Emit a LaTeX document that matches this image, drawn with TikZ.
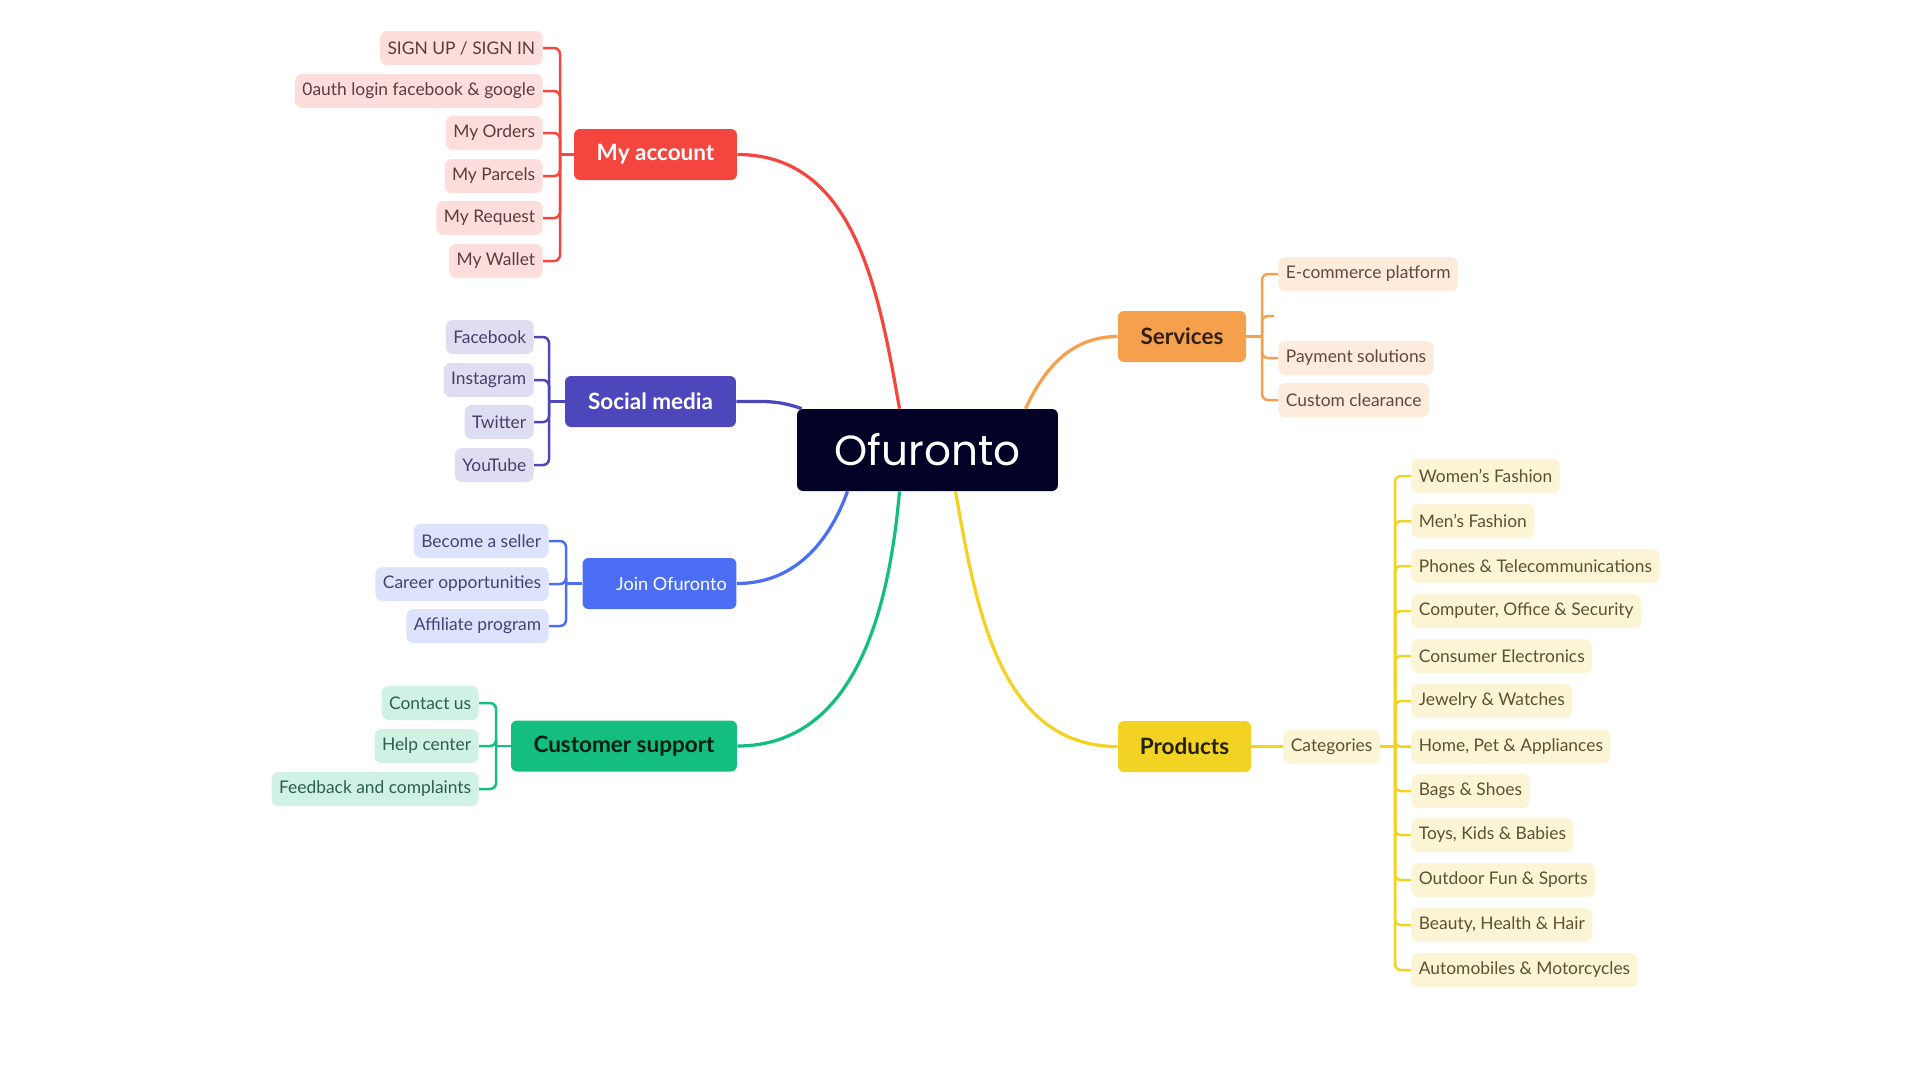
\documentclass[tikz,border=0pt]{standalone}
\usepackage{fontspec}
\setmainfont{Lato}
\newfontfamily\titlefont{Poppins}

\definecolor{navy}{HTML}{020126}
\definecolor{acctc}{HTML}{F4463F}
\definecolor{acctl}{HTML}{FDDEDC}
\definecolor{acctt}{HTML}{5E3B3F}
\definecolor{socc}{HTML}{4E47BC}
\definecolor{socl}{HTML}{DFDDF2}
\definecolor{soct}{HTML}{45406A}
\definecolor{joinc}{HTML}{4C6EF5}
\definecolor{joinl}{HTML}{DDE3FD}
\definecolor{joint}{HTML}{3F4670}
\definecolor{csc}{HTML}{13BE7F}
\definecolor{csl}{HTML}{D0F2E4}
\definecolor{cst}{HTML}{2E5E4C}
\definecolor{servc}{HTML}{F5A04C}
\definecolor{servl}{HTML}{FDEBDB}
\definecolor{servt}{HTML}{5E4A3A}
\definecolor{prodc}{HTML}{F2D323}
\definecolor{prodl}{HTML}{FCF5D5}
\definecolor{prodt}{HTML}{5C5232}

\begin{document}
\begin{tikzpicture}[x=0.02cm,y=-0.02cm,
  main/.style={rounded corners=0.12cm, minimum height=1.02cm, inner sep=0pt,
    font=\bfseries\fontsize{12.8}{14}\selectfont},
  leaf/.style={rounded corners=0.14cm, minimum height=0.68cm, inner xsep=0.15cm,
    inner ysep=0pt, font=\fontsize{9.9}{11}\selectfont},
  link/.style={line width=0.065cm},
  brk/.style={line width=0.05cm, rounded corners=0.12cm}]
  \useasboundingbox (0,0) rectangle (1920,1080);

  % centre
  \node[main, fill=navy, text=white, minimum width=5.22cm, minimum height=1.64cm,
    font=\titlefont\fontsize{24}{27}\selectfont] (ofu) at (927.5,450) {Ofuronto};

  % My account
  \node[main, fill=acctc, text=white, minimum width=3.26cm] (acct) at (655.5,154.5) {My account};
  \node[leaf, fill=acctl, text=acctt, anchor=east] (acct1) at (543,48) {SIGN UP / SIGN IN};
  \node[leaf, fill=acctl, text=acctt, anchor=east] (acct2) at (543,91) {0auth login facebook \& google};
  \node[leaf, fill=acctl, text=acctt, anchor=east] (acct3) at (543,133) {My Orders};
  \node[leaf, fill=acctl, text=acctt, anchor=east] (acct4) at (543,176) {My Parcels};
  \node[leaf, fill=acctl, text=acctt, anchor=east] (acct5) at (543,218) {My Request};
  \node[leaf, fill=acctl, text=acctt, anchor=east] (acct6) at (543,261) {My Wallet};
  \coordinate (acctj) at (560,154.5);
  \draw[brk, draw=acctc] (acct.west) -- (acctj);
  \draw[brk, draw=acctc] (acctj) |- (acct1.east);
  \draw[brk, draw=acctc] (acctj) |- (acct2.east);
  \draw[brk, draw=acctc] (acctj) |- (acct3.east);
  \draw[brk, draw=acctc] (acctj) |- (acct4.east);
  \draw[brk, draw=acctc] (acctj) |- (acct5.east);
  \draw[brk, draw=acctc] (acctj) |- (acct6.east);
  \draw[link, draw=acctc] (acct.east) to[out=0,in=100] ([xshift=-0.56cm]ofu.north);

  % Social media
  \node[main, fill=socc, text=white, minimum width=3.42cm] (soc) at (650.5,401.5) {Social media};
  \node[leaf, fill=socl, text=soct, anchor=east] (soc1) at (534,337) {Facebook};
  \node[leaf, fill=socl, text=soct, anchor=east] (soc2) at (534,380) {Instagram};
  \node[leaf, fill=socl, text=soct, anchor=east] (soc3) at (534,422) {Twitter};
  \node[leaf, fill=socl, text=soct, anchor=east] (soc4) at (534,465) {YouTube};
  \coordinate (socj) at (549,401.5);
  \draw[brk, draw=socc] (soc.west) -- (socj);
  \draw[brk, draw=socc] (socj) |- (soc1.east);
  \draw[brk, draw=socc] (socj) |- (soc2.east);
  \draw[brk, draw=socc] (socj) |- (soc3.east);
  \draw[brk, draw=socc] (socj) |- (soc4.east);
  \draw[link, draw=socc] (soc.east) to[out=0,in=160] ([xshift=0.1cm]ofu.north west);

  % Join Ofuronto
  \node[main, fill=joinc, text=white, minimum width=3.08cm,
    font=\fontsize{10.3}{12}\selectfont] (join) at (659.5,583.5) {\hspace*{0.48cm}Join Ofuronto};
  \node[leaf, fill=joinl, text=joint, anchor=east] (join1) at (549,541) {Become a seller};
  \node[leaf, fill=joinl, text=joint, anchor=east] (join2) at (549,584) {Career opportunities};
  \node[leaf, fill=joinl, text=joint, anchor=east] (join3) at (549,626) {Affiliate program};
  \coordinate (joinj) at (566,583.5);
  \draw[brk, draw=joinc] (join.west) -- (joinj);
  \draw[brk, draw=joinc] (joinj) |- (join1.east);
  \draw[brk, draw=joinc] (joinj) |- (join2.east);
  \draw[brk, draw=joinc] (joinj) |- (join3.east);
  \draw[link, draw=joinc] (join.east) to[out=0,in=-110] ([xshift=-1.6cm]ofu.south);

  % Customer support
  \node[main, fill=csc, text=black!85!csc, minimum width=4.52cm] (cs) at (624,746) {Customer support};
  \node[leaf, fill=csl, text=cst, anchor=east] (cs1) at (479,703) {Contact us};
  \node[leaf, fill=csl, text=cst, anchor=east] (cs2) at (479,746) {Help center};
  \node[leaf, fill=csl, text=cst, anchor=east] (cs3) at (479,789) {Feedback and complaints};
  \coordinate (csj) at (496,746);
  \draw[brk, draw=csc] (cs.west) -- (csj);
  \draw[brk, draw=csc] (csj) |- (cs1.east);
  \draw[brk, draw=csc] (csj) |- (cs2.east);
  \draw[brk, draw=csc] (csj) |- (cs3.east);
  \draw[link, draw=csc] (cs.east) to[out=0,in=-95] ([xshift=-0.56cm]ofu.south);

  % Services
  \node[main, fill=servc, text=black!80!servc, minimum width=2.56cm] (serv) at (1182,336.5) {Services};
  \node[leaf, fill=servl, text=servt, anchor=west] (serv1) at (1278,274) {E-commerce platform};
  \node[leaf, fill=servl, text=servt, anchor=west] (serv2) at (1278,358) {Payment solutions};
  \node[leaf, fill=servl, text=servt, anchor=west] (serv3) at (1278,400) {Custom clearance};
  \coordinate (servj) at (1262,336.5);
  \coordinate (servx) at (1274,316);
  \draw[brk, draw=servc] (serv.east) -- (servj);
  \draw[brk, draw=servc] (servj) |- (serv1.west);
  \draw[brk, draw=servc] (servj) |- (servx);
  \draw[brk, draw=servc] (servj) |- (serv2.west);
  \draw[brk, draw=servc] (servj) |- (serv3.west);
  \draw[link, draw=servc] (serv.west) to[out=180,in=65] ([xshift=1.96cm]ofu.north);

  % Products
  \node[main, fill=prodc, text=black!85!prodc, minimum width=2.66cm] (prod) at (1184.5,746.5) {Products};
  \node[leaf, fill=prodl, text=prodt, anchor=west] (cat) at (1283,746.5) {Categories};
  \node[leaf, fill=prodl, text=prodt, anchor=west] (prod1) at (1411,476) {Women's Fashion};
  \node[leaf, fill=prodl, text=prodt, anchor=west] (prod2) at (1411,521) {Men's Fashion};
  \node[leaf, fill=prodl, text=prodt, anchor=west] (prod3) at (1411,566) {Phones \& Telecommunications};
  \node[leaf, fill=prodl, text=prodt, anchor=west] (prod4) at (1411,611) {Computer, Office \& Security};
  \node[leaf, fill=prodl, text=prodt, anchor=west] (prod5) at (1411,656) {Consumer Electronics};
  \node[leaf, fill=prodl, text=prodt, anchor=west] (prod6) at (1411,701) {Jewelry \& Watches};
  \node[leaf, fill=prodl, text=prodt, anchor=west] (prod7) at (1411,746.5) {Home, Pet \& Appliances};
  \node[leaf, fill=prodl, text=prodt, anchor=west] (prod8) at (1411,791) {Bags \& Shoes};
  \node[leaf, fill=prodl, text=prodt, anchor=west] (prod9) at (1411,835) {Toys, Kids \& Babies};
  \node[leaf, fill=prodl, text=prodt, anchor=west] (prod10) at (1411,880) {Outdoor Fun \& Sports};
  \node[leaf, fill=prodl, text=prodt, anchor=west] (prod11) at (1411,925) {Beauty, Health \& Hair};
  \node[leaf, fill=prodl, text=prodt, anchor=west] (prod12) at (1411,970) {Automobiles \& Motorcycles};
  \coordinate (catj) at (1395,746.5);
  \draw[brk, draw=prodc] (prod.east) -- (cat.west);
  \draw[brk, draw=prodc] (cat.east) -- (catj);
  \draw[brk, draw=prodc] (catj) |- (prod1.west);
  \draw[brk, draw=prodc] (catj) |- (prod2.west);
  \draw[brk, draw=prodc] (catj) |- (prod3.west);
  \draw[brk, draw=prodc] (catj) |- (prod4.west);
  \draw[brk, draw=prodc] (catj) |- (prod5.west);
  \draw[brk, draw=prodc] (catj) |- (prod6.west);
  \draw[brk, draw=prodc] (catj) |- (prod7.west);
  \draw[brk, draw=prodc] (catj) |- (prod8.west);
  \draw[brk, draw=prodc] (catj) |- (prod9.west);
  \draw[brk, draw=prodc] (catj) |- (prod10.west);
  \draw[brk, draw=prodc] (catj) |- (prod11.west);
  \draw[brk, draw=prodc] (catj) |- (prod12.west);
  \draw[link, draw=prodc] (prod.west) to[out=180,in=-80] ([xshift=0.56cm]ofu.south);
\end{tikzpicture}
\end{document}
